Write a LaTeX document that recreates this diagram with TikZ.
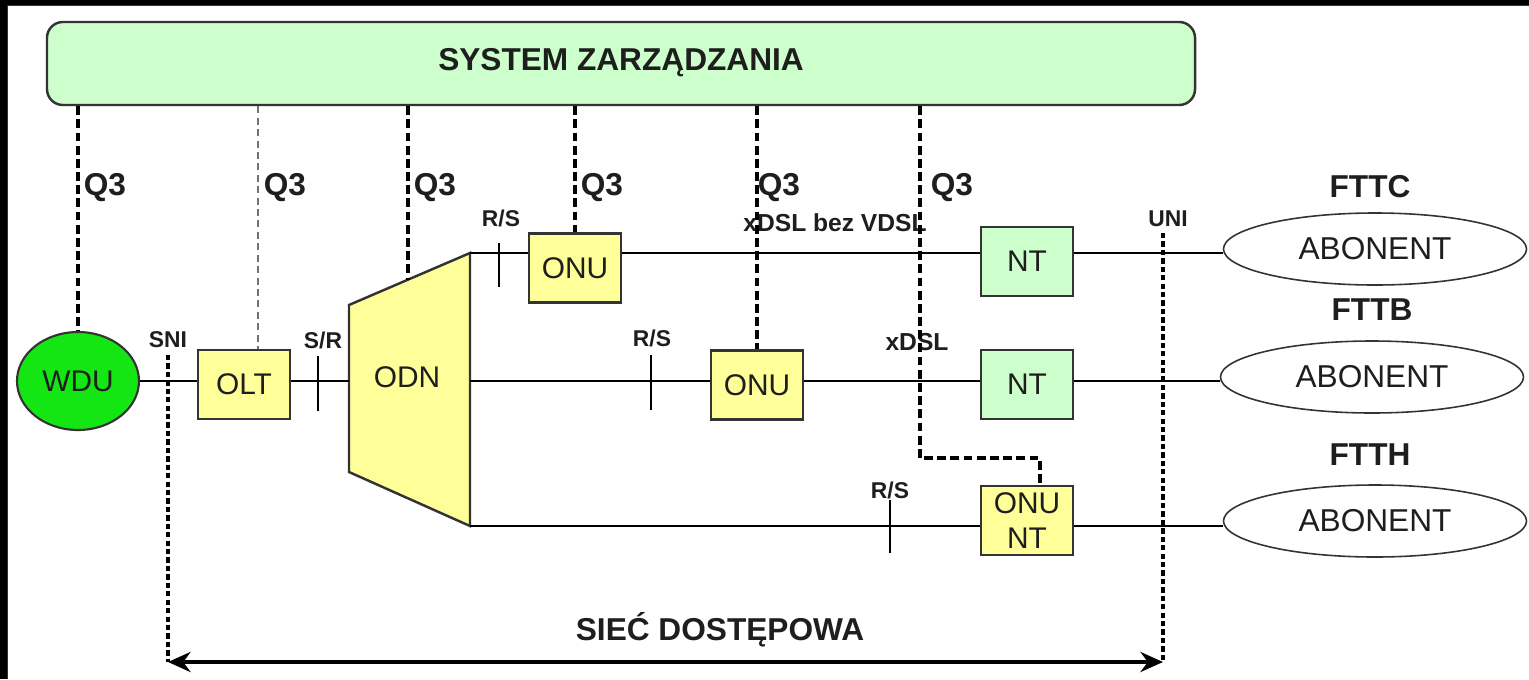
\documentclass[tikz,border=0pt]{standalone}
\usepackage{fontspec}
\setmainfont{Liberation Sans}
\usetikzlibrary{shapes.geometric, arrows.meta, positioning, calc}
\definecolor{cMgmt}{RGB}{204, 255, 204}
\definecolor{cUnit}{RGB}{255, 255, 153}
\definecolor{cWdu}{RGB}{20, 230, 20}
\definecolor{bLine}{RGB}{51, 51, 51}
\definecolor{tDark}{RGB}{30, 30, 30}
\definecolor{bFrame}{RGB}{40, 40, 140}

\begin{document}
\begin{tikzpicture}[
    x=0.2mm, y=-0.2mm,
    font=\fontsize{17}{20}\selectfont,
    >=Stealth,
    mgmt/.style={
        draw=bLine,
        line width=1.4pt,
        fill=cMgmt,
        rounded corners=9pt,
        minimum width=229.6mm,
        minimum height=16.6mm,
        font=\bfseries\fontsize{18}{20}\selectfont,
        text=tDark
    },
    unit/.style={
        draw=bLine,
        line width=1.4pt,
        fill=#1,
        minimum width=18.4mm,
        minimum height=13.8mm,
        inner sep=0pt,
        align=center,
        text=tDark
    },
    wdunode/.style={
        ellipse,
        draw=bLine,
        line width=1.2pt,
        fill=cWdu,
        minimum width=24.4mm,
        minimum height=19.6mm,
        inner sep=0pt,
        text=tDark
    },
    abon/.style={
        ellipse,
        draw=bLine,
        line width=0.9pt,
        minimum width=60.6mm,
        minimum height=14.4mm,
        inner sep=0pt,
        font=\fontsize{18}{20}\selectfont,
        text=tDark
    },
    lbl/.style={font=\bfseries\fontsize{18}{20}\selectfont, inner sep=2pt, text=tDark},
    lblsmall/.style={font=\bfseries\fontsize{13}{15}\selectfont, inner sep=1pt, text=tDark},
    conn/.style={line width=1.1pt, color=black},
    q3line/.style={line width=2pt, dash pattern=on 5pt off 2.5pt},
    q3thin/.style={line width=1.2pt, color=black!55, dash pattern=on 4pt off 2.5pt},
    iface/.style={line width=2.2pt, dash pattern=on 3pt off 1.8pt},
    span/.style={<->, line width=2.2pt, >={Stealth[length=4.5mm, width=4mm]}}
]

% frame
\useasboundingbox (0,0) rectangle (1529,679);
\fill[white] (0,0) rectangle (1529,679);
\fill[black] (0,0) rectangle (1529,5);
\fill[black] (0,0) rectangle (7,679);
\draw[bFrame, line width=0.8pt] (7.5,679) -- (7.5,5.5) -- (1529,5.5);

\node[mgmt] (mgmt) at (621,63.5) {\raisebox{4.5pt}{SYSTEM ZARZĄDZANIA}};

% ODN
\draw[draw=bLine, line width=1.4pt, fill=cUnit] (349,305) -- (470,253) -- (470,526) -- (349,472) -- cycle;
\node[text=tDark] (odn) at (407,377) {ODN};
\coordinate (odnIn) at (349,381);
\coordinate (odnT) at (470,253);
\coordinate (odnM) at (470,381);
\coordinate (odnB) at (470,526);
\coordinate (odnQ) at (408,280);

% units
\node[wdunode] (wdu) at (78,381) {WDU};
\node[unit=cUnit] (olt) at (244,384.5) {OLT};
\node[unit=cUnit] (onuA) at (575,268) {ONU};
\node[unit=cUnit] (onuB) at (757,385) {ONU};
\node[unit=cMgmt] (ntA) at (1027,261.5) {NT};
\node[unit=cMgmt] (ntB) at (1027,384.5) {NT};
\node[unit=cUnit] (ntC) at (1027,520.5) {ONU\\NT};

\node[abon] (abA) at (1375,249) {ABONENT};
\node[abon] (abB) at (1372,377) {ABONENT};
\node[abon] (abC) at (1375,521) {ABONENT};

\node[lbl] (fttc) at (1370,187) {FTTC};
\node[lbl] (fttb) at (1372,310) {FTTB};
\node[lbl] (ftth) at (1370,455) {FTTH};

% lines
\draw[conn] (wdu.east) -- (wdu.east -| olt.west);
\draw[conn] (olt.east |- wdu.east) -- (odnIn);
\draw[conn] (odnT) -- (odnT -| onuA.west);
\draw[conn] (onuA.east |- odnT) -- (odnT -| ntA.west);
\draw[conn] (ntA.east |- odnT) -- (odnT -| abA.west);
\draw[conn] (odnM) -- (odnM -| onuB.west);
\draw[conn] (onuB.east |- odnM) -- (odnM -| ntB.west);
\draw[conn] (ntB.east |- odnM) -- (odnM -| abB.west);
\draw[conn] (odnB) -- (odnB -| ntC.west);
\draw[conn] (ntC.east |- odnB) -- (odnB -| abC.west);

% reference points
\coordinate (tSR) at (318,383);
\coordinate (tRSa) at (499,265);
\coordinate (tRSb) at (651,382);
\coordinate (tRSc) at (890,526);
\draw[conn] (tSR) ++(0,-27) -- ++(0,55);
\draw[conn] (tRSa) ++(0,-22) -- ++(0,44);
\draw[conn] (tRSb) ++(0,-27) -- ++(0,55);
\draw[conn] (tRSc) ++(0,-26) -- ++(0,53);
\node[lblsmall] (lSR) at (323,340) {S/R};
\node[lblsmall] (lRSa) at (501,218) {R/S};
\node[lblsmall] (lRSb) at (652,338) {R/S};
\node[lblsmall] (lRSc) at (890,490) {R/S};

\node[lblsmall, font=\bfseries\fontsize{14}{16}\selectfont] (xdslA) at (835,223) {xDSL bez VDSL};
\node[lblsmall, font=\bfseries\fontsize{14}{16}\selectfont] (xdslB) at (917,342) {xDSL};

% Q3
\coordinate (oltQ) at ($(olt.north)+(14,0)$);
\coordinate (q3f) at (920,458);
\coordinate (q3g) at (1040,458);
\draw[q3line] (wdu.north |- mgmt.south) -- (wdu.north);
\draw[q3thin] (oltQ |- mgmt.south) -- (oltQ);
\draw[q3line] (odnQ |- mgmt.south) -- (odnQ);
\draw[q3line] (onuA.north |- mgmt.south) -- (onuA.north);
\draw[q3line] (onuB.north |- mgmt.south) -- (onuB.north);
\draw[q3line] (q3f |- mgmt.south) -- (q3f) -- (q3g) -- (q3g |- ntC.north);
\node[lbl, anchor=west] (q3a) at (80,188) {Q3};
\node[lbl, anchor=west] (q3b) at (260,188) {Q3};
\node[lbl, anchor=west] (q3c) at (410,188) {Q3};
\node[lbl, anchor=west] (q3d) at (577,188) {Q3};
\node[lbl, anchor=west] (q3e) at (754,188) {Q3};
\node[lbl, anchor=west] (q3f) at (927,188) {Q3};

% SNI / UNI
\coordinate (sniTop) at (168,355);
\coordinate (sniBot) at (168,662);
\coordinate (uniTop) at (1163,233);
\coordinate (uniBot) at (1163,662);
\draw[iface] (sniTop) -- (sniBot);
\draw[iface] (uniTop) -- (uniBot);
\node[lblsmall] (sni) at (168,340) {SNI};
\node[lblsmall] (uni) at (1168,219) {UNI};
\draw[span] (sniBot) -- (uniBot);
\node[lbl] (siec) at (720,630) {SIEĆ DOSTĘPOWA};

\end{tikzpicture}
\end{document}
